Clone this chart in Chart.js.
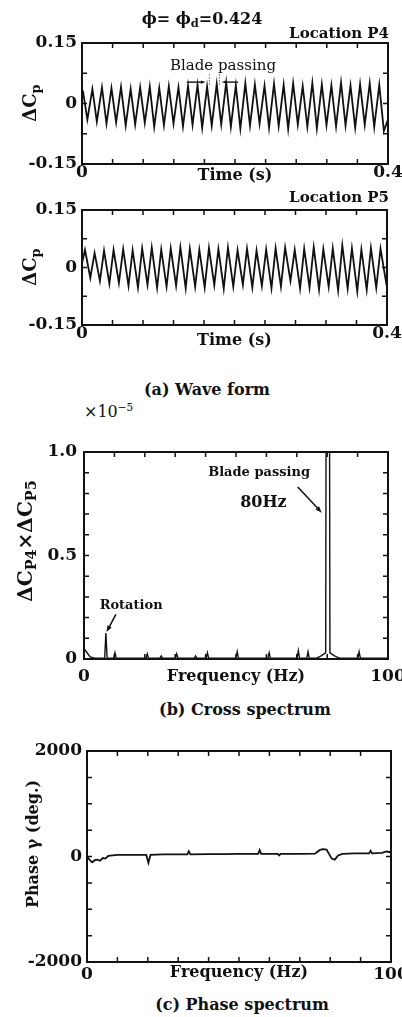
<!DOCTYPE html>
<html>
<head>
<meta charset="utf-8">
<script src="https://cdn.jsdelivr.net/npm/chart.js@4.4.1/dist/chart.umd.min.js"></script>
<style>
  body { margin: 0; background: #fff; }
  #page { position: relative; width: 402px; height: 1017px; overflow: hidden;
          font-family: 'DejaVu Serif', 'Liberation Serif', serif; color: #111; }
  #page canvas { position: absolute; left: 0; }
  .lbl { position: absolute; white-space: nowrap; font-weight: bold; line-height: 1;
         transform: translate(-50%, -50%); }
  .rgt { transform: translate(-100%, -50%); }
  .lft { transform: translate(0, -50%); }
  .rot { transform: translate(-50%, -50%) rotate(-90deg); }
  .lbl sub { font-size: 72%; vertical-align: -0.3em; line-height: 0; }
  .lbl sup { font-size: 65%; vertical-align: 0.55em; line-height: 0; }
</style>
</head>
<body>
<div id="page">
  <canvas id="waveP4" width="402" height="190" style="top:0px"></canvas>
  <canvas id="waveP5" width="402" height="165" style="top:190px"></canvas>
  <canvas id="cross" width="402" height="260" style="top:430px"></canvas>
  <canvas id="phase" width="402" height="265" style="top:730px"></canvas>

  <div class="lbl" style="left:202px;top:19px;font-size:16px">ϕ= ϕ<sub>d</sub>=0.424</div>
  <div class="lbl rgt" style="left:389px;top:33px;font-size:15px">Location P4</div>
  <div class="lbl rot" style="left:30px;top:103px;font-size:18px">ΔC<sub>p</sub></div>
  <div class="lbl rgt" style="left:389px;top:197px;font-size:15px">Location P5</div>
  <div class="lbl rot" style="left:30px;top:267px;font-size:18px">ΔC<sub>p</sub></div>
  <div class="lbl" style="left:207px;top:390px;font-size:16px">(a) Wave form</div>

  <div class="lbl lft" style="left:84px;top:412px;font-size:16px;font-weight:normal">×10<sup>−5</sup></div>
  <div class="lbl rot" style="left:25px;top:541px;font-size:20px">ΔC<sub>P4</sub>×ΔC<sub>P5</sub></div>
  <div class="lbl" style="left:245px;top:710px;font-size:16px">(b) Cross spectrum</div>

  <div class="lbl rot" style="left:33px;top:844px;font-size:16px">Phase γ (deg.)</div>
  <div class="lbl" style="left:242px;top:1005px;font-size:16px">(c) Phase spectrum</div>
</div>

<script>
const SERIF = "'DejaVu Serif', 'Liberation Serif', serif";
const INK = '#111';

/**
 * (a) Wave form, location P4
 * crest / trough times in ms and the pressure fluctuation ΔCp
 */
const p4Time = [
  0,
  1.2, 7.0,   13.6, 19.4,  26.1, 32.0,  38.5, 44.6,
  51.0, 57.1,  63.6, 69.5,  76.0, 82.1,  88.6, 94.4,
  101.0, 107.1, 113.5, 119.6, 126.1, 132.0, 138.6, 144.5,
  151.0, 157.1, 163.5, 169.6, 176.1, 182.0, 188.5, 194.6,
  201.1, 207.0, 213.5, 219.6, 226.0, 232.1, 238.6, 244.5,
  251.0, 257.1, 263.6, 269.5, 276.0, 282.1, 288.5, 294.6,
  301.1, 307.0, 313.5, 319.6, 326.0, 332.1, 338.6, 344.5,
  351.0, 357.1, 363.5, 369.6, 376.1, 382.0, 388.6, 394.6,
  400
];
const p4Cp = [
  0.025,
  0.032, -0.040,  0.036, -0.045,  0.040, -0.050,  0.038, -0.047,
  0.041, -0.055,  0.036, -0.052,  0.040, -0.048,  0.042, -0.058,
  0.038, -0.054,  0.043, -0.050,  0.040, -0.057,  0.044, -0.053,
  0.046, -0.060,  0.042, -0.055,  0.048, -0.052,  0.052, -0.058,
  0.045, -0.062,  0.050, -0.055,  0.047, -0.050,  0.044, -0.060,
  0.049, -0.056,  0.046, -0.063,  0.050, -0.052,  0.043, -0.058,
  0.051, -0.062,  0.047, -0.054,  0.045, -0.057,  0.052, -0.055,
  0.044, -0.060,  0.048, -0.053,  0.050, -0.058,  0.046, -0.068,
  -0.040
];

/**
 * (a) Wave form, location P5
 */
const p5Time = [
  0,
  3.9, 10.9,  16.5, 23.5,  28.9, 35.9,  41.4, 48.4,
  54.0, 61.0,  66.4, 73.4,  78.9, 85.9,  91.5, 98.5,
  103.9, 110.9, 116.4, 123.4, 129.0, 136.0, 141.4, 148.4,
  153.9, 160.9, 166.5, 173.5, 178.9, 185.9, 191.4, 198.4,
  204.0, 211.0, 216.4, 223.4, 228.9, 235.9, 241.5, 248.5,
  253.9, 260.9, 266.4, 273.4, 279.0, 286.0, 291.4, 298.4,
  303.9, 310.9, 316.5, 323.5, 328.9, 335.9, 341.4, 348.4,
  354.0, 361.0, 366.4, 373.4, 378.9, 385.9, 391.5, 398.5,
  400
];
const p5Cp = [
  0.010,
  0.046, -0.027,  0.038, -0.035,  0.044, -0.042,  0.046, -0.040,
  0.048, -0.048,  0.045, -0.052,  0.050, -0.045,  0.052, -0.053,
  0.047, -0.050,  0.050, -0.047,  0.053, -0.054,  0.049, -0.050,
  0.046, -0.052,  0.051, -0.046,  0.048, -0.055,  0.052, -0.050,
  0.045, -0.045,  0.049, -0.052,  0.044, -0.048,  0.047, -0.054,
  0.050, -0.050,  0.052, -0.035,  0.046, -0.055,  0.049, -0.052,
  0.053, -0.058,  0.048, -0.050,  0.050, -0.060,  0.058, -0.055,
  0.050, -0.062,  0.047, -0.058,  0.051, -0.053,  0.049, -0.035,
  -0.020
];

/**
 * (b) Cross spectrum ΔCp4 × ΔCp5 (×10^-5) against frequency (Hz)
 * the blade passing peak runs off the top of the axis
 */
const crossHz = [
  0, 0.8, 2.0, 3.5,  6.8, 7.2, 7.6,  9.8, 10.2, 10.6,
  20.4, 20.8, 21.2,  25.0, 25.4, 25.8,  30.1, 30.5, 30.9,
  36.3, 36.7, 37.1,  40.2, 40.6, 41.0,  50.0, 50.4, 50.8,
  60.5, 60.9, 61.3,  70.1, 70.5, 70.9,  73.3, 73.7, 74.1,
  76.5, 78.0, 79.5, 80.2, 80.9, 82.4, 84.0,  87.0,
  90.1, 90.5, 90.9,  100
];
const crossVal = [
  0.05, 0.035, 0.01, 0.004,  0.004, 0.125, 0.004,  0.004, 0.03, 0.004,
  0.004, 0.025, 0.004,  0.004, 0.015, 0.004,  0.004, 0.025, 0.004,
  0.004, 0.015, 0.004,  0.004, 0.03, 0.004,  0.004, 0.035, 0.004,
  0.004, 0.03, 0.004,  0.004, 0.04, 0.004,  0.004, 0.035, 0.004,
  0.004, 0.015, 0.03, 6.0, 0.03, 0.015, 0.004,  0.004,
  0.004, 0.035, 0.004,  0.004
];

/**
 * (c) Phase spectrum γ (deg.) against frequency (Hz)
 */
const phaseHz = [
  0, 0.8, 1.7, 2.6, 3.4, 4.3, 5.2, 6.0, 7.0, 8.5, 10,
  15, 19.5, 20.2, 20.9,  25, 30, 33.0, 33.5, 34.0,
  40, 45, 50,  56.3, 56.8, 57.3,  62.7, 63.2, 63.7,
  70, 75, 76.5, 77.5, 78.8, 79.6, 80.5, 81.5, 82.6, 84, 88,
  92.8, 93.3, 93.8,  97, 98.5, 100
];
const phaseDeg = [
  0, -60, -110, -70, -60, -80, -30, -40, 10, 20, 30,
  30, 30, -120, 30,  40, 40, 40, 100, 40,
  45, 45, 50,  50, 120, 50,  50, 20, 50,
  50, 55, 120, 140, 130, 50, -40, -60, 20, 50, 60,
  60, 110, 60,  70, 95, 80
];

/**
 * Tick labels (only these values carry a number, the other ticks are bare)
 */
const waveTimeLabels = [[0, '0'], [0.4, '0.4']];
const waveCpLabels = [[-0.15, '-0.15'], [0, '0'], [0.15, '0.15']];
const freqLabels = [[0, '0'], [100, '100']];
const crossLabels = [[0, '0'], [0.5, '0.5'], [1, '1.0']];
const phaseLabels = [[-2000, '-2000'], [0, '0'], [2000, '2000']];

//zips two arrays into {x, y} points, xScale converts units (ms -> s)
function points(xs, ys, xScale) {
  return xs.map((v, i) => ({x: v * (xScale || 1), y: ys[i]}));
}

//returns the label for a tick value or '' when the tick has no number
function labelFor(list) {
  return (value) => {
    const hit = list.find(l => Math.abs(l[0] - value) < 1e-9);
    return hit ? hit[1] : '';
  };
}

/**
 * Frame with the inward tick marks on all four sides
 */
const framePlugin = {
  id: 'frame',
  afterDraw(chart) {
    const {ctx, chartArea: a, scales: {x, y}} = chart;
    const len = 5;
    ctx.save();
    ctx.strokeStyle = INK;
    ctx.lineWidth = 1.5;
    ctx.beginPath();
    x.ticks.forEach(t => {
      const px = x.getPixelForValue(t.value);
      ctx.moveTo(px, a.bottom); ctx.lineTo(px, a.bottom - len);
      ctx.moveTo(px, a.top); ctx.lineTo(px, a.top + len);
    });
    y.ticks.forEach(t => {
      const py = y.getPixelForValue(t.value);
      ctx.moveTo(a.left, py); ctx.lineTo(a.left + len, py);
      ctx.moveTo(a.right, py); ctx.lineTo(a.right - len, py);
    });
    ctx.stroke();
    ctx.lineWidth = 2;
    ctx.strokeRect(a.left, a.top, a.right - a.left, a.bottom - a.top);
    ctx.restore();
  }
};

//draws a straight arrow with a filled head at (x2, y2), all in pixels
function arrow(ctx, x1, y1, x2, y2, head) {
  const ang = Math.atan2(y2 - y1, x2 - x1);
  ctx.beginPath();
  ctx.moveTo(x1, y1);
  ctx.lineTo(x2 - Math.cos(ang) * head * 0.6, y2 - Math.sin(ang) * head * 0.6);
  ctx.stroke();
  ctx.beginPath();
  ctx.moveTo(x2, y2);
  ctx.lineTo(x2 - head * Math.cos(ang - 0.35), y2 - head * Math.sin(ang - 0.35));
  ctx.lineTo(x2 - head * Math.cos(ang + 0.35), y2 - head * Math.sin(ang + 0.35));
  ctx.closePath();
  ctx.fill();
}

/**
 * Annotations, placed in data units through the chart scales
 */
function notesPlugin(notes) {
  return {
    id: 'notes',
    afterDatasetsDraw(chart) {
      const {ctx, scales: {x, y}} = chart;
      ctx.save();
      ctx.fillStyle = INK;
      ctx.strokeStyle = INK;
      notes.forEach(n => {
        if (n.text) {
          ctx.font = n.font;
          ctx.textAlign = 'center';
          ctx.textBaseline = 'middle';
          ctx.fillText(n.text, x.getPixelForValue(n.x), y.getPixelForValue(n.y));
        } else if (n.arrow) {
          ctx.lineWidth = n.width || 1.3;
          arrow(ctx, x.getPixelForValue(n.arrow[0]), y.getPixelForValue(n.arrow[1]),
                x.getPixelForValue(n.arrow[2]), y.getPixelForValue(n.arrow[3]), n.head || 6);
        } else if (n.dots) {
          ctx.lineWidth = 1;
          ctx.setLineDash([1, 2]);
          ctx.beginPath();
          ctx.moveTo(x.getPixelForValue(n.dots[0]), y.getPixelForValue(n.dots[1]));
          ctx.lineTo(x.getPixelForValue(n.dots[0]), y.getPixelForValue(n.dots[2]));
          ctx.stroke();
          ctx.setLineDash([]);
        }
      });
      ctx.restore();
    }
  };
}

/**
 * Builds one panel. Axis box sizes are fixed in afterFit so the plot frames land
 * where they are in the figure.
 */
function panel(id, p) {
  const tickFont = {family: SERIF, size: 17, weight: 'bold', lineHeight: 1};
  return new Chart(document.getElementById(id), {
    type: 'line',
    data: {
      datasets: [{
        data: p.data,
        borderColor: INK,
        borderWidth: p.lineWidth || 1.4,
        pointRadius: 0,
        tension: 0,
        fill: false
      }]
    },
    options: {
      responsive: false,
      animation: false,
      devicePixelRatio: 1,
      layout: {autoPadding: false, padding: p.pad},
      plugins: {legend: {display: false}, tooltip: {enabled: false}},
      scales: {
        x: {
          type: 'linear',
          min: p.x.min, max: p.x.max,
          grid: {display: false, drawTicks: false},
          border: {display: false},
          ticks: {stepSize: p.x.step, autoSkip: false, maxRotation: 0, padding: p.x.tickPad,
                  color: INK, font: tickFont, callback: labelFor(p.x.labels)},
          title: {display: true, text: p.x.title, color: INK,
                  font: {family: SERIF, size: 16, weight: 'bold', lineHeight: 1},
                  padding: {top: 0, bottom: p.x.titlePad}},
          afterFit(s) { s.height = p.x.height; s.paddingLeft = 0; s.paddingRight = 0; }
        },
        y: {
          type: 'linear',
          min: p.y.min, max: p.y.max,
          grid: {display: false, drawTicks: false},
          border: {display: false},
          ticks: {stepSize: p.y.step, autoSkip: false, padding: p.y.tickPad,
                  color: INK, font: tickFont, callback: labelFor(p.y.labels)},
          afterFit(s) { s.width = p.y.width; s.paddingTop = 0; s.paddingBottom = 0; }
        }
      }
    },
    plugins: [framePlugin, notesPlugin(p.notes || [])]
  });
}

//(a) location P4
panel('waveP4', {
  data: points(p4Time, p4Cp, 0.001),
  lineWidth: 1.8,
  pad: {left: 0, right: 14, top: 43, bottom: 0},
  x: {min: 0, max: 0.4, step: 0.04, labels: waveTimeLabels, title: 'Time (s)',
      height: 26, tickPad: 0.5, titlePad: 6},
  y: {min: -0.15, max: 0.15, step: 0.075, labels: waveCpLabels, width: 82, tickPad: 5},
  notes: [
    {text: 'Blade passing', x: 0.1843, y: 0.093, font: "15px " + SERIF},
    {arrow: [0.137, 0.053, 0.1615, 0.053], width: 1.4, head: 5},
    {arrow: [0.2039, 0.053, 0.1825, 0.053], width: 1.4, head: 5},
    {dots: [0.1665, 0.072, 0.046]},
    {dots: [0.1795, 0.072, 0.046]}
  ]
});

//(a) location P5
panel('waveP5', {
  data: points(p5Time, p5Cp, 0.001),
  lineWidth: 1.8,
  pad: {left: 0, right: 15, top: 20, bottom: 0},
  x: {min: 0, max: 0.4, step: 0.04, labels: waveTimeLabels, title: 'Time (s)',
      height: 30, tickPad: 0, titlePad: 6},
  y: {min: -0.15, max: 0.15, step: 0.075, labels: waveCpLabels, width: 82, tickPad: 5}
});

//(b) cross spectrum
panel('cross', {
  data: points(crossHz, crossVal),
  lineWidth: 1.4,
  pad: {left: 0, right: 14, top: 22, bottom: 0},
  x: {min: 0, max: 100, step: 10, labels: freqLabels, title: 'Frequency (Hz)',
      height: 31, tickPad: 9.5, titlePad: 5},
  y: {min: 0, max: 1, step: 0.1, labels: crossLabels, width: 84, tickPad: 7},
  notes: [
    {text: 'Blade passing', x: 57.6, y: 0.9, font: "bold 13px " + SERIF},
    {text: '80Hz', x: 59.0, y: 0.756, font: "bold 16px " + SERIF},
    {arrow: [70.3, 0.831, 78.2, 0.707], width: 1.5, head: 7},
    {text: 'Rotation', x: 15.5, y: 0.258, font: "bold 13px " + SERIF},
    {arrow: [10.5, 0.216, 7.4, 0.13], width: 1.5, head: 7}
  ]
});

//(c) phase spectrum
panel('phase', {
  data: points(phaseHz, phaseDeg),
  lineWidth: 1.8,
  pad: {left: 0, right: 11, top: 21, bottom: 0},
  x: {min: 0, max: 100, step: 10, labels: freqLabels, title: 'Frequency (Hz)',
      height: 33, tickPad: 4.5, titlePad: 14},
  y: {min: -2000, max: 2000, step: 500, labels: phaseLabels, width: 87, tickPad: 5}
});
</script>
</body>
</html>
